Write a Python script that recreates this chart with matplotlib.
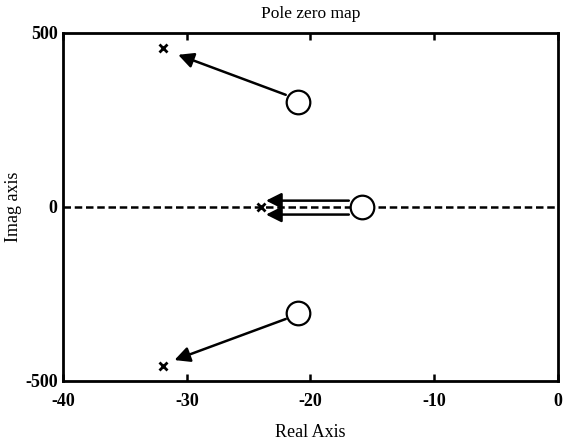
import matplotlib
matplotlib.use("Agg")
import matplotlib.pyplot as plt
import numpy as np

plt.rcParams['font.family'] = ['Liberation Serif', 'DejaVu Serif']
plt.rcParams['axes.unicode_minus'] = False

# poles (x) and zeros (o)
pole_re = [-31.9, -24.0, -31.9]
pole_im = [457, 0, -457]
zero_re = [-21.0, -15.8, -21.0]
zero_im = [300, 0, -305]

# arrows: start (near zero) -> end (near pole)
arr_x0 = [-22.0, -16.9, -16.9, -22.0]
arr_y0 = [322, 18, -22, -322]
arr_x1 = [-30.7, -23.6, -23.6, -31.0]
arr_y1 = [437, 18, -22, -440]

fig = plt.figure(figsize=(5.64, 4.44), dpi=100)
ax = fig.add_axes([0.112, 0.142, 0.877, 0.784])

ax.axhline(0, color='black', lw=1.8, ls=(0, (3, 1.5)), zorder=1)

for x0, y0, x1, y1 in zip(arr_x0, arr_y0, arr_x1, arr_y1):
    ax.annotate('', xy=(x1, y1), xytext=(x0, y0),
                arrowprops=dict(arrowstyle='-|>', color='black', lw=1.8,
                                mutation_scale=23, shrinkA=0, shrinkB=0))

ax.plot(pole_re, pole_im, ls='none', marker='x', ms=6, mew=2, color='black')
ax.plot(zero_re, zero_im, ls='none', marker='o', ms=17, mew=1.6,
        mfc='white', mec='black', zorder=3)

ax.set_xlim(-40, 0)
ax.set_ylim(-500, 500)
ax.set_xticks([-40, -30, -20, -10, 0])
ax.set_yticks([-500, 0, 500])
ax.tick_params(axis='x', direction='in', top=True, length=5, width=1.8,
               labelsize=13, pad=9)
ax.tick_params(axis='y', length=0, labelsize=13, pad=4)
for lab in ax.get_xticklabels() + ax.get_yticklabels():
    lab.set_fontweight('bold')
for s in ax.spines.values():
    s.set_linewidth(2)

ax.set_title('Pole zero map', fontsize=12.5, pad=11)
ax.set_xlabel('Real Axis', fontsize=13, labelpad=10)
ax.set_ylabel('Imag axis', fontsize=13, labelpad=2)

fig.savefig('out.png', dpi=100)
